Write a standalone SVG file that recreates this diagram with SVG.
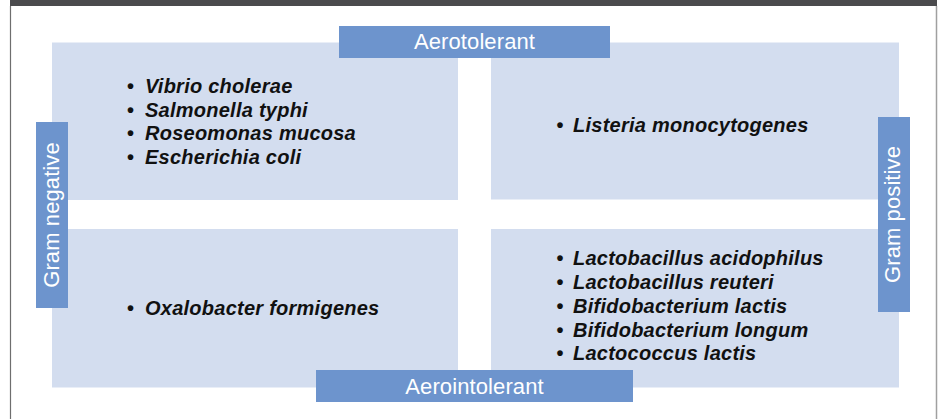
<svg xmlns="http://www.w3.org/2000/svg" width="940" height="419" viewBox="0 0 940 419">
<style>
.quad{fill:#d3ddef}
.lab{fill:#6d94cd}
.labt{font-family:"Liberation Sans",Arial,sans-serif;font-size:22px;letter-spacing:0.1px;fill:#ffffff;text-anchor:middle}
.item{font-family:"Liberation Sans",Arial,sans-serif;font-size:20px;font-weight:bold;font-style:italic;letter-spacing:0.25px;fill:#111111}
.bul{font-family:"Liberation Sans",Arial,sans-serif;font-size:20px;font-weight:bold;fill:#111111;text-anchor:middle}
</style>
<rect x="0" y="0" width="940" height="419" fill="#ffffff"/>
<g id="frame">
<rect x="10" y="0" width="927" height="6" fill="#4b4b4d"/>
<line x1="10.5" y1="6" x2="10.5" y2="419" stroke="#6e6e6e" stroke-width="1.2"/>
<line x1="936.5" y1="6" x2="936.5" y2="419" stroke="#a0a0a0" stroke-width="1.5"/>
</g>
<g id="q-top-left">
<rect class="quad" x="52" y="42.5" width="406" height="157.5"/>
<text class="bul" x="130.5" y="93">•</text><text class="item" x="145" y="93">Vibrio cholerae</text>
<text class="bul" x="130.5" y="116.5">•</text><text class="item" x="145" y="116.5">Salmonella typhi</text>
<text class="bul" x="130.5" y="140">•</text><text class="item" x="145" y="140">Roseomonas mucosa</text>
<text class="bul" x="130.5" y="164">•</text><text class="item" x="145" y="164">Escherichia coli</text>
</g>
<g id="q-top-right">
<rect class="quad" x="491" y="42.5" width="408" height="157"/>
<text class="bul" x="560" y="132">•</text><text class="item" x="573" y="132">Listeria monocytogenes</text>
</g>
<g id="q-bottom-left">
<rect class="quad" x="52" y="229" width="406" height="158.5"/>
<text class="bul" x="130.5" y="315">•</text><text class="item" x="145" y="315">Oxalobacter formigenes</text>
</g>
<g id="q-bottom-right">
<rect class="quad" x="491" y="229" width="408" height="158.5"/>
<text class="bul" x="560" y="265">•</text><text class="item" x="573" y="265">Lactobacillus acidophilus</text>
<text class="bul" x="560" y="288.5">•</text><text class="item" x="573" y="288.5">Lactobacillus reuteri</text>
<text class="bul" x="560" y="312.5">•</text><text class="item" x="573" y="312.5">Bifidobacterium lactis</text>
<text class="bul" x="560" y="336.5">•</text><text class="item" x="573" y="336.5">Bifidobacterium longum</text>
<text class="bul" x="560" y="360">•</text><text class="item" x="573" y="360">Lactococcus lactis</text>
</g>
<g id="label-aerotolerant">
<rect class="lab" x="339" y="26" width="271" height="32"/>
<text class="labt" x="474.5" y="49">Aerotolerant</text>
</g>
<g id="label-aerointolerant">
<rect class="lab" x="316" y="370" width="317" height="32"/>
<text class="labt" x="474.5" y="393.5">Aerointolerant</text>
</g>
<g id="label-gram-negative">
<rect class="lab" x="36" y="122" width="32" height="186"/>
<text class="labt" transform="translate(59 215) rotate(-90)">Gram negative</text>
</g>
<g id="label-gram-positive">
<rect class="lab" x="878" y="117" width="32" height="195"/>
<text class="labt" transform="translate(900 214.5) rotate(-90)">Gram positive</text>
</g>
</svg>
